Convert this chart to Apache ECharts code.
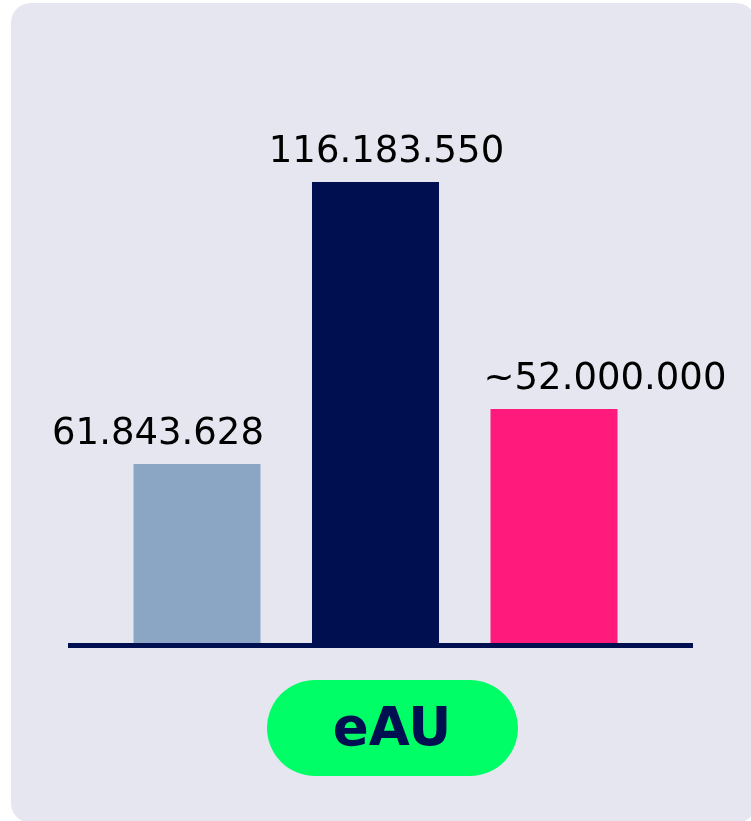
<!DOCTYPE html>
<html>
<head>
<meta charset="utf-8">
<script src="https://cdn.jsdelivr.net/npm/echarts@6/dist/echarts.min.js"></script>
<style>
  html, body { margin: 0; padding: 0; background: #ffffff; }
  #chart { width: 751px; height: 821px; }
</style>
</head>
<body>
<div id="chart"></div>
<script>
// bars as drawn (millions), labels as printed
const categories = ['bar 1', 'bar 2', 'bar 3'];
const barHeights = [45.4, 116.2, 59.2];
const valueLabels = ['61.843.628', '116.183.550', '~52.000.000'];
const groupLabel = 'eAU';

const barColors = ['#8ba6c5', '#000f4f', '#ff1a7b'];
const labelShift = [-39, 11, 51];
const navy = '#000f4f';

const chart = echarts.init(document.getElementById('chart'));

chart.setOption({
  animation: false,
  graphic: [
    {
      type: 'rect',
      left: 11,
      top: 3,
      z: -10,
      shape: { width: 745, height: 820, r: 20 },
      style: { fill: '#e6e6f0' }
    },
    {
      type: 'rect',
      left: 267,
      top: 680,
      z: 10,
      shape: { width: 251, height: 96, r: 48 },
      style: { fill: '#00ff66' }
    },
    {
      type: 'text',
      z: 11,
      style: {
        x: 392,
        y: 731,
        text: groupLabel,
        textAlign: 'center',
        textVerticalAlign: 'middle',
        fill: navy,
        fontFamily: 'DejaVu Sans',
        fontWeight: 'bold',
        fontSize: 53
      }
    }
  ],
  grid: [
    { left: 107.75, right: 107.75, top: 99, bottom: 176 },
    { left: 68, right: 58, top: 99, bottom: 176 }
  ],
  xAxis: [
    {
      type: 'category',
      data: categories,
      show: false
    },
    {
      type: 'category',
      gridIndex: 1,
      data: [''],
      z: 10,
      axisLine: { show: true, lineStyle: { color: navy, width: 5, cap: 'butt' } },
      axisTick: { show: false },
      axisLabel: { show: false }
    }
  ],
  yAxis: [
    { type: 'value', min: 0, max: 137, show: false },
    { type: 'value', gridIndex: 1, show: false }
  ],
  series: [
    {
      type: 'bar',
      barWidth: 127,
      data: barHeights.map((v, i) => ({
        value: v,
        itemStyle: { color: barColors[i] },
        label: { offset: [labelShift[i], 0] }
      })),
      label: {
        show: true,
        position: 'top',
        distance: 11,
        color: '#000000',
        fontFamily: 'DejaVu Sans',
        fontSize: 37,
        formatter: (p) => valueLabels[p.dataIndex]
      }
    }
  ]
});
</script>
</body>
</html>
